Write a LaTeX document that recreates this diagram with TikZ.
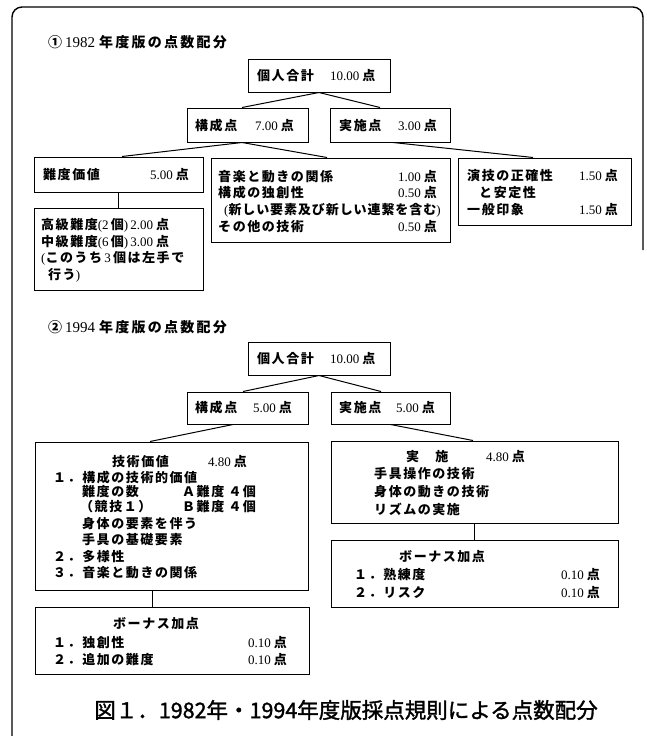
\documentclass[tikz,border=0pt]{standalone}
\usepackage{fontspec}
\newfontfamily\jpfont{Noto Sans CJK JP}[LetterSpace=12]
\newfontfamily\jpnarrow{Noto Sans CJK JP}[LetterSpace=7]
\newfontfamily\jptitle{Noto Sans CJK JP}[LetterSpace=16]
\newfontfamily\jpcap{Noto Sans CJK JP}[FakeBold=1.5]
\newfontfamily\srfont{Liberation Serif}
\newcommand\Nm[1]{{\srfont\mdseries #1}}
\newcommand\Pt{\hspace{3pt}点}
\tikzset{
  box/.style={draw, line width=1pt, inner sep=0pt, anchor=center},
  txt/.style={inner sep=0pt, anchor=west, font=\jpfont\bfseries\fontsize{13pt}{16pt}\selectfont},
  ttl/.style={inner sep=0pt, anchor=west, font=\jptitle\bfseries\fontsize{14pt}{17pt}\selectfont},
  link/.style={line width=1pt}
}
\begin{document}
\begin{tikzpicture}[x=1pt,y=-1pt]
\useasboundingbox (0,0) rectangle (646,736);
% frame
\draw[line width=1.4pt, rounded corners=10pt] (12,736) -- (12,7) -- (643,7) -- (643,250);

% ---------------- Section 1 ----------------
\node[ttl] (t1) at (48,42) {①\hspace{3pt}{\srfont\mdseries\fontsize{15pt}{17pt}\selectfont 1982}\hspace{4pt}年度版の点数配分};

\node[box, minimum width=142pt, minimum height=33pt] (total1) at (319,75.5) {};
\node[box, minimum width=121pt, minimum height=34pt] (kousei1) at (247.5,125) {};
\node[box, minimum width=120pt, minimum height=34pt] (jisshi1) at (390,125) {};
\node[box, minimum width=169pt, minimum height=35pt] (nando1) at (118.5,174.5) {};
\node[box, minimum width=239pt, minimum height=84pt] (mid1) at (330.5,200) {};
\node[box, minimum width=173pt, minimum height=67pt] (right1) at (544.5,191.5) {};
\node[box, minimum width=169pt, minimum height=82pt] (low1) at (118.5,249) {};

\draw[link] (total1.south) -- ([xshift=-5.5pt]kousei1.north);
\draw[link] (total1.south) -- ([xshift=-10pt]jisshi1.north);
\draw[link] ([xshift=-5.5pt]kousei1.south) -- ([xshift=3.5pt]nando1.north);
\draw[link] ([xshift=-5.5pt]kousei1.south) -- ([xshift=-3.5pt]mid1.north);
\draw[link] ([xshift=3pt]jisshi1.south) -- ([xshift=-11.5pt]right1.north);
\draw[link] (nando1.south) -- (low1.north);

\node[txt] (a1) at (257,76) {個人合計};
\node[txt] (a2) at (330,76) {\Nm{10.00}\Pt};
\node[txt] (b1) at (195,126) {構成点};
\node[txt] (b2) at (255,126) {\Nm{7.00}\Pt};
\node[txt] (c1) at (339,126) {実施点};
\node[txt] (c2) at (398,126) {\Nm{3.00}\Pt};
\node[txt] (d1) at (43,175) {難度価値};
\node[txt] (d2) at (150,175) {\Nm{5.00}\Pt};

\node[txt] (e1) at (41,225) {高級難度\Nm{(2\,}個\Nm{)\,2.00}\Pt};
\node[txt] (e2) at (41,242) {中級難度\Nm{(6\,}個\Nm{)\,3.00}\Pt};
\node[txt] (e3) at (41,258) {\Nm{(}このうち\Nm{\,3\,}個は左手で};
\node[txt] (e4) at (48,275) {行う\Nm{)}};

\node[txt] (f1) at (218,177) {音楽と動きの関係};
\node[txt] (f1v) at (398,177) {\Nm{1.00}\Pt};
\node[txt] (f2) at (218,193) {構成の独創性};
\node[txt] (f2v) at (398,193) {\Nm{0.50}\Pt};
\node[txt, font=\jpnarrow\bfseries\fontsize{13pt}{16pt}\selectfont] (f3) at (224,210) {\Nm{(}新しい要素及び新しい連繋を含む\Nm{)}};
\node[txt] (f4) at (218,227) {その他の技術};
\node[txt] (f4v) at (398,227) {\Nm{0.50}\Pt};

\node[txt] (g1) at (467,176) {演技の正確性};
\node[txt] (g1v) at (579,176) {\Nm{1.50}\Pt};
\node[txt] (g2) at (479,193) {と安定性};
\node[txt] (g3) at (467,210) {一般印象};
\node[txt] (g3v) at (579,210) {\Nm{1.50}\Pt};

% ---------------- Section 2 ----------------
\node[ttl] (t2) at (48,327) {②\hspace{3pt}{\srfont\mdseries\fontsize{15pt}{17pt}\selectfont 1994}\hspace{4pt}年度版の点数配分};

\node[box, minimum width=142pt, minimum height=33pt] (total2) at (319,358.5) {};
\node[box, minimum width=121pt, minimum height=32pt] (kousei2) at (247.5,408) {};
\node[box, minimum width=119pt, minimum height=32pt] (jisshi2) at (390.5,408) {};
\node[box, minimum width=273pt, minimum height=148pt] (left2) at (171.5,516) {};
\node[box, minimum width=287pt, minimum height=82pt] (right2) at (474.5,482) {};
\node[box, minimum width=274pt, minimum height=67pt] (bonusL) at (172,640.5) {};
\node[box, minimum width=287pt, minimum height=67pt] (bonusR) at (474.5,573.5) {};

\draw[link] (total2.south) -- ([xshift=-4.5pt]kousei2.north);
\draw[link] (total2.south) -- ([xshift=-9.5pt]jisshi2.north);
\draw[link] ([xshift=-14.5pt]kousei2.south) -- ([xshift=-21.5pt]left2.north);
\draw[link] (jisshi2.south) -- ([xshift=-1.5pt]right2.north);
\draw[link] ([xshift=-19.5pt]left2.south) -- ([xshift=-20pt]bonusL.north);
\draw[link] (right2.south) -- (bonusR.north);

\node[txt] (h1) at (257,359) {個人合計};
\node[txt] (h2) at (330,359) {\Nm{10.00}\Pt};
\node[txt] (i1) at (195,408) {構成点};
\node[txt] (i2) at (253,408) {\Nm{5.00}\Pt};
\node[txt] (j1) at (339,408) {実施点};
\node[txt] (j2) at (396,408) {\Nm{5.00}\Pt};

\node[txt] (k0) at (112,462) {技術価値};
\node[txt] (k0v) at (208,462) {\Nm{4.80}\Pt};
\node[txt] (k1) at (53,478) {１．構成の技術的価値};
\node[txt] (k2) at (82,492) {難度の数};
\node[txt] (k2v) at (182,492) {Ａ難度\hspace{4pt}４個};
\node[txt] (k3) at (80,507) {（競技１）};
\node[txt] (k3v) at (182,507) {Ｂ難度\hspace{4pt}４個};
\node[txt] (k4) at (82,524) {身体の要素を伴う};
\node[txt] (k5) at (82,540) {手具の基礎要素};
\node[txt] (k6) at (53,557) {２．多様性};
\node[txt] (k7) at (53,573) {３．音楽と動きの関係};

\node[txt] (m0) at (406,457) {実　施};
\node[txt] (m0v) at (486,457) {\Nm{4.80}\Pt};
\node[txt] (m1) at (374,474) {手具操作の技術};
\node[txt] (m2) at (374,492) {身体の動きの技術};
\node[txt] (m3) at (374,509) {リズムの実施};

\node[txt] (n0) at (399,557) {ボーナス加点};
\node[txt] (n1) at (354,575) {１．熟練度};
\node[txt] (n1v) at (561,575) {\Nm{0.10}\Pt};
\node[txt] (n2) at (354,593) {２．リスク};
\node[txt] (n2v) at (561,593) {\Nm{0.10}\Pt};

\node[txt] (p0) at (113,624) {ボーナス加点};
\node[txt] (p1) at (53,643) {１．独創性};
\node[txt] (p1v) at (248,643) {\Nm{0.10}\Pt};
\node[txt] (p2) at (53,660) {２．追加の難度};
\node[txt] (p2v) at (248,660) {\Nm{0.10}\Pt};

% caption
\node[inner sep=0pt, font=\jpcap\fontsize{21.5pt}{24pt}\selectfont] (cap) at (346,710) {図１．1982年・1994年度版採点規則による点数配分};
\end{tikzpicture}
\end{document}
